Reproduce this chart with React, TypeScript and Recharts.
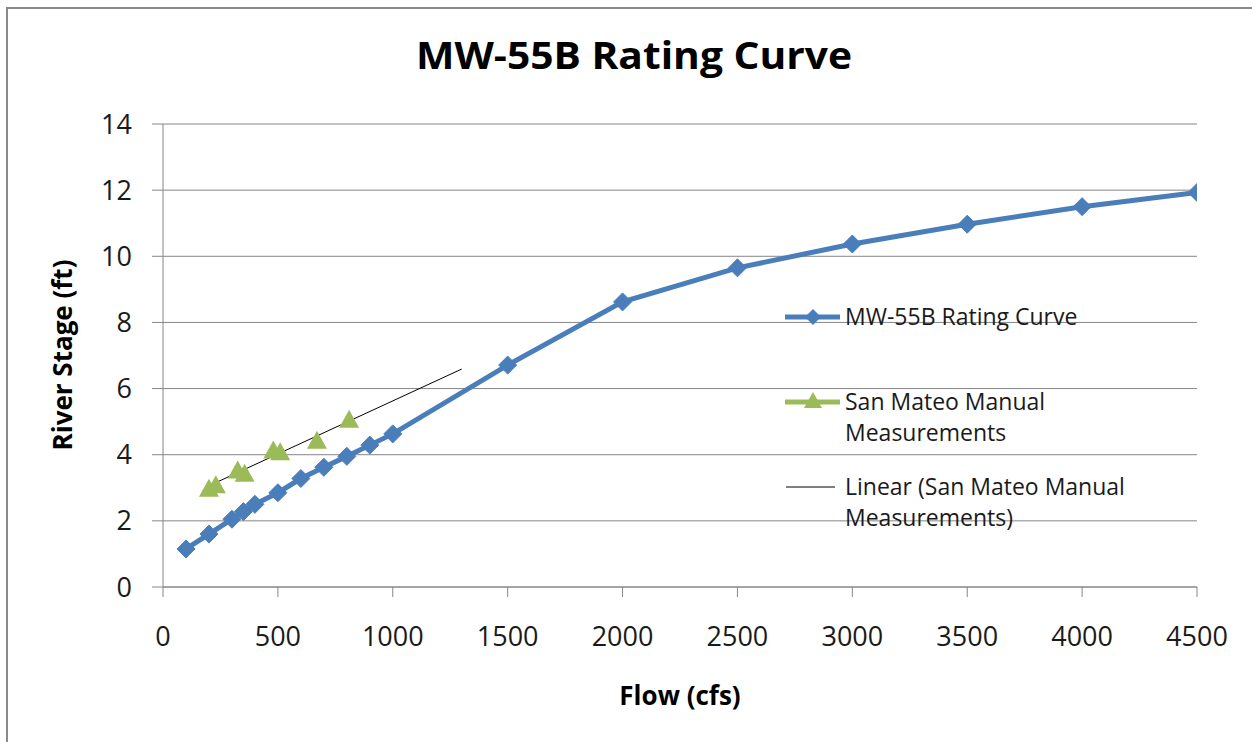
import React from "react";
import {
  ComposedChart,
  Line,
  Scatter,
  XAxis,
  YAxis,
  CartesianGrid,
} from "recharts";

// Rating curve (flow cfs -> stage ft)
const ratingFlow = [100, 200, 300, 350, 400, 500, 600, 700, 800, 900, 1000, 1500, 2000, 2500, 3000, 3500, 4000, 4500];
const ratingStage = [1.15, 1.6, 2.05, 2.28, 2.5, 2.85, 3.28, 3.62, 3.95, 4.29, 4.63, 6.71, 8.62, 9.65, 10.37, 10.97, 11.5, 11.93];

// San Mateo manual measurements
const manualFlow = [200, 230, 325, 355, 480, 510, 670, 810];
const manualStage = [2.95, 3.05, 3.5, 3.4, 4.1, 4.05, 4.4, 5.03];

// Linear trendline endpoints (as drawn)
const trendFlow = [200, 1300];
const trendStage = [3.06, 6.59];

const xTicks = [0, 500, 1000, 1500, 2000, 2500, 3000, 3500, 4000, 4500];
const yTicks = [0, 2, 4, 6, 8, 10, 12, 14];

const titleText = "MW-55B Rating Curve";
const xTitle = "Flow (cfs)";
const yTitle = "River Stage  (ft)";
const legendLabels = [
  ["MW-55B Rating Curve"],
  ["San Mateo Manual", "Measurements"],
  ["Linear (San Mateo Manual", "Measurements)"],
];

const BLUE = "#4A7EBB";
const GREEN = "#9BBB59";
const GRID = "#868686";
const TEXT = "#1a1a1a";
const FONT = "'Open Sans', 'Noto Sans', sans-serif";

const ratingData = ratingFlow.map((x, i) => ({ x, y: ratingStage[i] }));
const manualData = manualFlow.map((x, i) => ({ x, y: manualStage[i] }));
const trendData = trendFlow.map((x, i) => ({ x, y: trendStage[i] }));

const Diamond = (props: any) => {
  const { cx, cy } = props;
  if (cx == null || cy == null) return null;
  const r = 9;
  return (
    <polygon
      key={`d-${cx}-${cy}`}
      points={`${cx},${cy - r} ${cx + r},${cy} ${cx},${cy + r} ${cx - r},${cy}`}
      fill={BLUE}
      stroke={BLUE}
      strokeWidth={1}
    />
  );
};

const Triangle = (props: any) => {
  const { cx, cy } = props;
  if (cx == null || cy == null) return null;
  const w = 10;
  const h = 18;
  return (
    <polygon
      points={`${cx},${cy - h * 0.6} ${cx + w},${cy + h * 0.4} ${cx - w},${cy + h * 0.4}`}
      fill={GREEN}
    />
  );
};

const LegendBlock = () => {
  const rows = [317, 402, 487];
  const x0 = 780;
  return (
    <g>
      <line x1={x0 + 5} x2={x0 + 60} y1={rows[0]} y2={rows[0]} stroke={BLUE} strokeWidth={5} />
      <polygon
        points={`${x0 + 33},${rows[0] - 8} ${x0 + 41},${rows[0]} ${x0 + 33},${rows[0] + 8} ${x0 + 25},${rows[0]}`}
        fill={BLUE}
      />
      <line x1={x0 + 5} x2={x0 + 60} y1={rows[1]} y2={rows[1]} stroke={GREEN} strokeWidth={5} />
      <polygon
        points={`${x0 + 33},${rows[1] - 10} ${x0 + 42},${rows[1] + 6} ${x0 + 24},${rows[1] + 6}`}
        fill={GREEN}
      />
      <line x1={x0 + 6} x2={x0 + 55} y1={rows[2]} y2={rows[2]} stroke="#000" strokeWidth={1} />
      {legendLabels.map((lines, i) =>
        lines.map((t, j) => (
          <text
            key={`${i}-${j}`}
            x={x0 + 65}
            y={rows[i] + 8 + j * 31}
            fontFamily={FONT}
            fontSize={23}
            fill={TEXT}
          >
            {t}
          </text>
        ))
      )}
    </g>
  );
};

export default function App() {
  return (
    <div
      style={{
        position: "absolute",
        left: 0,
        top: 0,
        width: 1252,
        height: 742,
        overflow: "hidden",
        background: "#fff",
      }}
    >
      <div
        style={{
          position: "absolute",
          left: 6,
          top: 7,
          width: 1300,
          height: 800,
          borderLeft: "2px solid #8a8a8a",
          borderTop: "2px solid #8a8a8a",
        }}
      />
      <div style={{ position: "absolute", left: 0, top: 0 }}>
        <ComposedChart
          width={1252}
          height={742}
          margin={{ top: 124, right: 55, bottom: 0, left: 0 }}
        >
          <CartesianGrid vertical={false} stroke={GRID} strokeWidth={1} />
          <XAxis
            type="number"
            dataKey="x"
            domain={[0, 4500]}
            ticks={xTicks}
            interval={0}
            height={155}
            stroke={GRID}
            tickSize={10}
            tickMargin={30}
            tick={{ fontFamily: FONT, fontSize: 27, fill: TEXT }}
            allowDataOverflow
          />
          <YAxis
            type="number"
            domain={[0, 14]}
            ticks={yTicks}
            interval={0}
            width={163}
            stroke={GRID}
            tickSize={11}
            tickMargin={20}
            tick={{ fontFamily: FONT, fontSize: 27, fill: TEXT }}
            allowDataOverflow
          />
          <Line
            data={ratingData}
            dataKey="y"
            name="MW-55B Rating Curve"
            stroke={BLUE}
            strokeWidth={5}
            dot={<Diamond />}
            activeDot={false}
            isAnimationActive={false}
          />
          <Scatter
            data={manualData}
            dataKey="y"
            name="San Mateo Manual Measurements"
            fill={GREEN}
            shape={<Triangle />}
            isAnimationActive={false}
          />
          <Line
            data={trendData}
            dataKey="y"
            name="Linear (San Mateo Manual Measurements)"
            stroke="#000"
            strokeWidth={1}
            dot={false}
            activeDot={false}
            isAnimationActive={false}
          />
        </ComposedChart>
      </div>
      <svg
        width={1252}
        height={742}
        style={{ position: "absolute", left: 0, top: 0, pointerEvents: "none" }}
      >
        <LegendBlock />
        <text
          x={634}
          y={69}
          textAnchor="middle"
          fontFamily={FONT}
          fontWeight={700}
          fontSize={37}
          textLength={436}
          lengthAdjust="spacingAndGlyphs"
          fill="#000"
        >
          {titleText}
        </text>
        <text
          x={680}
          y={705}
          textAnchor="middle"
          fontFamily={FONT}
          fontWeight={700}
          fontSize={26}
          fill="#000"
        >
          {xTitle}
        </text>
        <text
          x={72}
          y={355}
          textAnchor="middle"
          transform="rotate(-90 72 355)"
          fontFamily={FONT}
          fontWeight={700}
          fontSize={26}
          fill="#000"
        >
          {yTitle}
        </text>
      </svg>
    </div>
  );
}
